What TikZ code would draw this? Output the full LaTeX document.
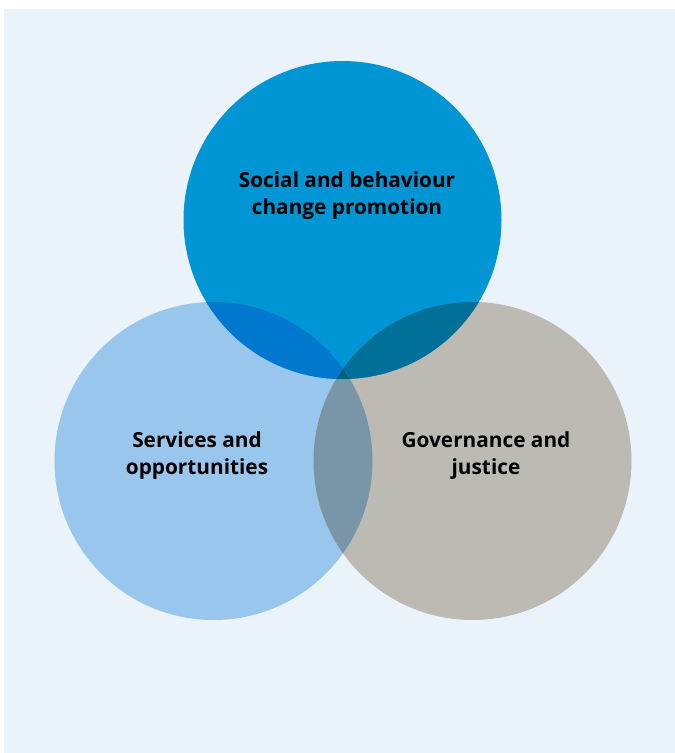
\documentclass[tikz,border=0pt]{standalone}
\usepackage{fontspec}
\setmainfont{Open Sans}
\definecolor{bgc}{RGB}{234,242,250}
\definecolor{ctop}{RGB}{0,150,214}
\definecolor{cleft}{RGB}{152,198,236}
\definecolor{cright}{RGB}{189,185,179}
\definecolor{ctl}{RGB}{0,120,205}
\definecolor{ctr}{RGB}{0,112,153}
\definecolor{clr}{RGB}{120,150,168}
\definecolor{call}{RGB}{0,96,132}
\tikzset{lbl/.style={align=center,font=\bfseries\fontsize{20.8}{27}\selectfont,text=black}}
\begin{document}
\begin{tikzpicture}[x=1pt,y=-1pt]
\useasboundingbox (0,0) rectangle (675,753);
\fill[bgc] (4,9) rectangle (675,753);
\def\R{159}
\coordinate (T) at (342.5,220);
\coordinate (L) at (213.5,461);
\coordinate (Rc) at (472.5,461);
\fill[cleft] (L) circle (\R);
\fill[cright] (Rc) circle (\R);
\fill[ctop] (T) circle (\R);
\begin{scope}\clip (T) circle (\R); \fill[ctl] (L) circle (\R);\end{scope}
\begin{scope}\clip (T) circle (\R); \fill[ctr] (Rc) circle (\R);\end{scope}
\begin{scope}\clip (L) circle (\R); \fill[clr] (Rc) circle (\R);\end{scope}
\begin{scope}\clip (T) circle (\R); \clip (L) circle (\R); \fill[call] (Rc) circle (\R);\end{scope}
\node[lbl] (tt) at (347,195.5) {Social and behaviour\\change promotion};
\node[lbl] (lt) at (197,455.5) {Services and\\opportunities};
\node[lbl] (rt) at (486,455.5) {Governance and\\justice};
\end{tikzpicture}
\end{document}
